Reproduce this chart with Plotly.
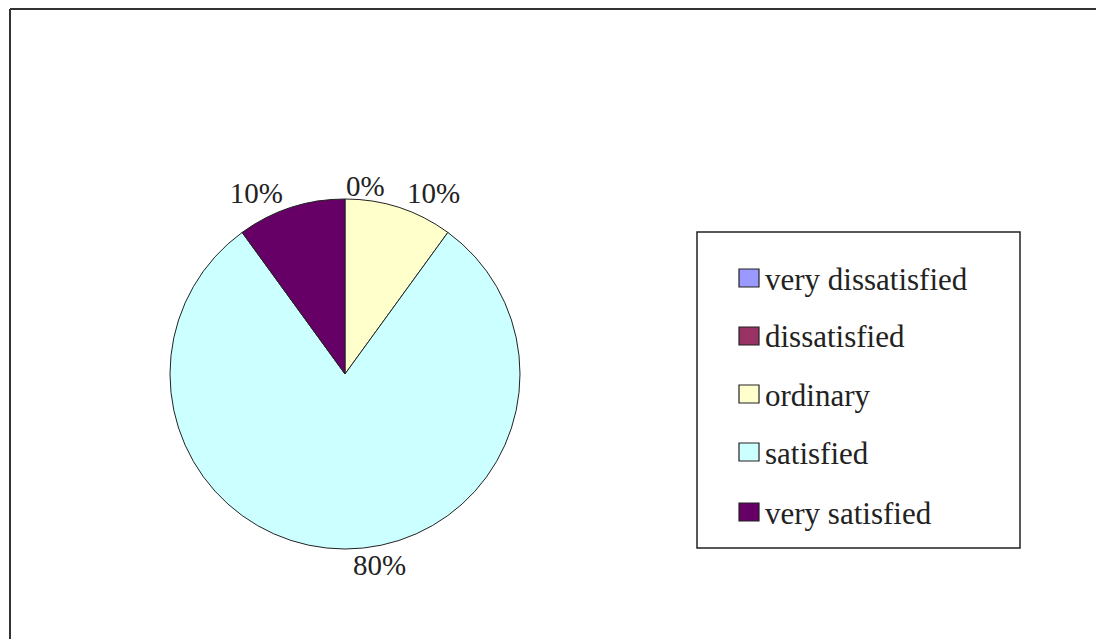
import plotly.graph_objects as go

W, H = 1096, 639

categories = ["very dissatisfied", "dissatisfied", "ordinary", "satisfied", "very satisfied"]
values = [0, 0, 10, 80, 10]
colors = ["#9999FF", "#993366", "#FFFFCC", "#CCFFFF", "#660066"]
# zero slices: their shared "0%" label is printed once, straight above the pie top
label_positions = ["none", "none", "outside", "outside", "outside"]

FONT = "Liberation Serif, Times New Roman, serif"

def px_x(x):
    return x / W

def px_y(y):
    return 1 - y / H

fig = go.Figure()
fig.add_trace(go.Pie(
    labels=categories,
    values=values,
    sort=False,
    direction="clockwise",
    rotation=0,
    marker=dict(colors=colors, line=dict(color="#222222", width=1)),
    textinfo="percent",
    texttemplate="%{percent:.0%}",
    textposition=label_positions,
    outsidetextfont=dict(family=FONT, size=29, color="#222222"),
    domain=dict(x=[px_x(170), px_x(520)], y=[px_y(549), px_y(199)]),
    showlegend=False,
    hoverinfo="label+percent",
))

shapes = []
annotations = []
zero_text = f"{values[1] / sum(values):.0%}"
annotations.append(dict(xref="paper", yref="paper", x=px_x(365), y=px_y(186),
                        xanchor="center", yanchor="middle", showarrow=False,
                        text=zero_text, font=dict(family=FONT, size=29, color="#222222")))
# outer frame (top and left edges)
shapes.append(dict(type="line", xref="paper", yref="paper",
                   x0=px_x(10), y0=px_y(9), x1=1.0, y1=px_y(9),
                   line=dict(color="#333333", width=2)))
shapes.append(dict(type="line", xref="paper", yref="paper",
                   x0=px_x(10), y0=px_y(9), x1=px_x(10), y1=0.0,
                   line=dict(color="#333333", width=2)))
# legend box
shapes.append(dict(type="rect", xref="paper", yref="paper",
                   x0=px_x(697), y0=px_y(548), x1=px_x(1020), y1=px_y(232),
                   line=dict(color="#222222", width=1.5), fillcolor="white"))
legend_y = [278, 336, 394, 452, 512]
for name, col, yc in zip(categories, colors, legend_y):
    shapes.append(dict(type="rect", xref="paper", yref="paper",
                       x0=px_x(739), y0=px_y(yc + 9), x1=px_x(759), y1=px_y(yc - 9),
                       line=dict(color="#222222", width=1.2), fillcolor=col))
    annotations.append(dict(xref="paper", yref="paper", x=px_x(763), y=px_y(yc + 1),
                            xanchor="left", yanchor="middle", showarrow=False,
                            text=name, font=dict(family=FONT, size=31, color="#222222")))

fig.update_layout(
    width=W, height=H,
    margin=dict(l=0, r=0, t=0, b=0),
    paper_bgcolor="white",
    plot_bgcolor="white",
    shapes=shapes,
    annotations=annotations,
)

fig.write_html("out.html")
